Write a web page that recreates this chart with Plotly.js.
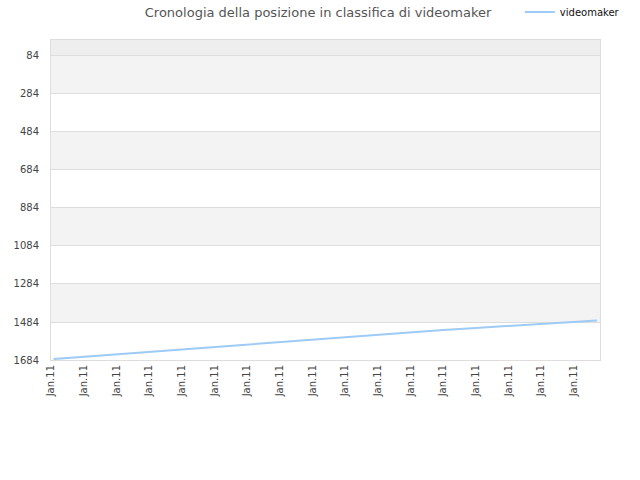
<!DOCTYPE html>
<html>
<head>
<meta charset="utf-8">
<script src="https://cdn.plot.ly/plotly-3.0.1.min.js"></script>
<style>
  body { margin: 0; background: #fff; }
  #myDiv { width: 640px; height: 480px; }
</style>
</head>
<body>
<div id="myDiv"></div>
<script>
// rank history (lower number = better position)
var xPos = [0.08, 1, 2, 3, 4, 5, 6, 7, 8, 9, 10, 11, 12, 13, 14, 15, 16, 16.71];
var ranks = [1679, 1667, 1654, 1641, 1628, 1615, 1601, 1588, 1575, 1562, 1550, 1538, 1526, 1515, 1504, 1494, 1484, 1476];
var tickPos = [0, 1, 2, 3, 4, 5, 6, 7, 8, 9, 10, 11, 12, 13, 14, 15, 16];
var tickText = ['Jan.11', 'Jan.11', 'Jan.11', 'Jan.11', 'Jan.11', 'Jan.11', 'Jan.11', 'Jan.11', 'Jan.11',
                'Jan.11', 'Jan.11', 'Jan.11', 'Jan.11', 'Jan.11', 'Jan.11', 'Jan.11', 'Jan.11'];
var yTicks = [84, 284, 484, 684, 884, 1084, 1284, 1484, 1684];

// alternating horizontal bands behind the plot
var bandFill = ['#eeeeee', '#f3f3f3', '#ffffff', '#f3f3f3', '#ffffff', '#f3f3f3', '#ffffff', '#f3f3f3', '#ffffff'];
var bandEdges = [0].concat(yTicks);
var shapes = [];
for (var i = 0; i < bandEdges.length - 1; i++) {
  shapes.push({
    type: 'rect', xref: 'paper', yref: 'y', layer: 'below',
    x0: 0, x1: 1, y0: bandEdges[i], y1: bandEdges[i + 1],
    fillcolor: bandFill[i], line: {width: 0}
  });
}

var data = [{
  x: xPos, y: ranks, type: 'scatter', mode: 'lines', name: 'videomaker',
  line: {color: '#9ecbf5', width: 2}
}];

var layout = {
  width: 640, height: 480,
  margin: {l: 51, r: 40, t: 40, b: 120, autoexpand: false},
  paper_bgcolor: '#ffffff', plot_bgcolor: '#ffffff',
  font: {family: 'DejaVu Sans, sans-serif', size: 10, color: '#444'},
  title: {text: 'Cronologia della posizione in classifica di videomaker',
          font: {size: 13, color: '#555'}, x: 0.497, xanchor: 'center', y: 0.975, yanchor: 'middle'},
  showlegend: true,
  legend: {x: 0.854, y: 1.0875, xanchor: 'left', yanchor: 'middle', orientation: 'h',
           font: {size: 10, color: '#111'}, bgcolor: 'rgba(0,0,0,0)', itemwidth: 30},
  xaxis: {range: [0, 16.8], tickvals: tickPos, ticktext: tickText, tickangle: -90,
          showgrid: false, zeroline: false, showline: true, mirror: true,
          linecolor: '#dddddd', linewidth: 1, ticks: '', tickfont: {size: 10, color: '#444'}},
  yaxis: {range: [1684, 0], tickvals: yTicks, ticktext: yTicks.map(String),
          showgrid: true, gridcolor: '#dddddd', zeroline: false, showline: true, mirror: true,
          linecolor: '#dddddd', linewidth: 1, ticks: '', ticklabelstandoff: 9,
          tickfont: {size: 10, color: '#444'}},
  shapes: shapes
};

Plotly.newPlot('myDiv', data, layout, {displayModeBar: false, staticPlot: true});
</script>
</body>
</html>
